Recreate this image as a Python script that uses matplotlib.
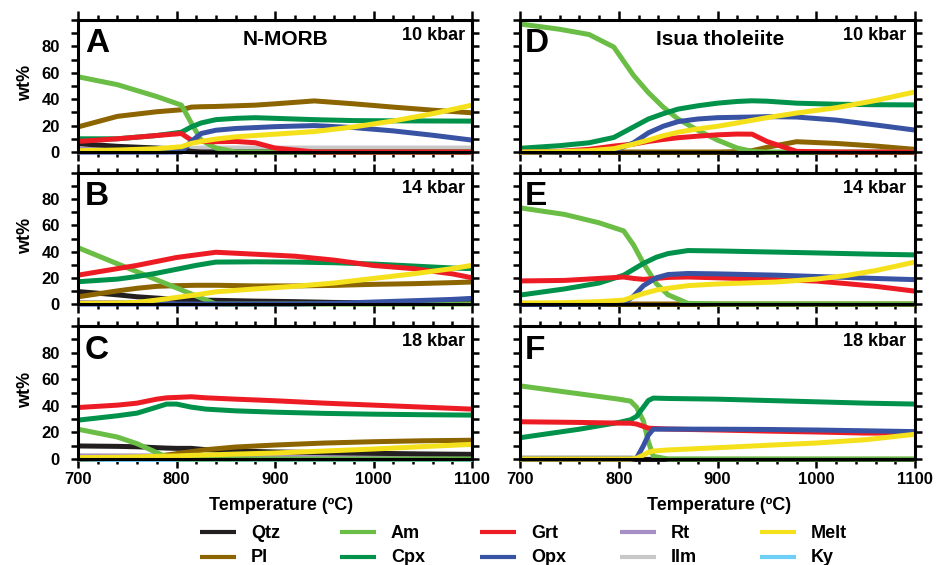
import matplotlib
matplotlib.use("Agg")
import matplotlib.pyplot as plt
from matplotlib.lines import Line2D
from matplotlib.ticker import MultipleLocator, FixedLocator, FixedFormatter

plt.rcParams['font.family'] = ['Liberation Sans', 'DejaVu Sans']
plt.rcParams['font.weight'] = 'bold'
plt.rcParams['axes.labelweight'] = 'bold'

# phase colours
colors = {
    'Qtz': '#231f20', 'Pl': '#8c6400', 'Am': '#6abd45', 'Cpx': '#00924a',
    'Grt': '#ed1c24', 'Opx': '#3953a4', 'Rt': '#a58fc4', 'Ilm': '#c8c8c8',
    'Melt': '#f5e11b', 'Ky': '#6dcff6',
}
legend_cols = [('Qtz', 'Pl'), ('Am', 'Cpx'), ('Grt', 'Opx'), ('Rt', 'Ilm'), ('Melt', 'Ky')]
draw_order = ['Ky', 'Ilm', 'Rt', 'Qtz', 'Pl', 'Am', 'Cpx', 'Grt', 'Opx', 'Melt']

y_ticks = [0, 10, 20, 30, 40, 50, 60, 70, 80, 90, 100]
y_ticklabels = ['0', '', '20', '', '40', '', '60', '', '80', '', '']

# --- N-MORB ---
A = dict(  # 10 kbar
    T=[700, 740, 780, 805, 815, 825, 840, 860, 880, 900, 940, 980, 1020, 1060, 1100],
    Am=[57, 51, 42, 35.5, 22, 9, 3, 0, 0, 0, 0, 0, 0, 0, 0],
    Pl=[19, 27, 30.5, 32, 34, 34.3, 34.5, 35, 35.5, 36.5, 38.7, 36.5, 34, 31.7, 29.7],
    Cpx=[10, 10, 12.5, 15, 19, 22, 24.5, 25.5, 26, 25.5, 24.5, 23.8, 23.6, 23.5, 23.4],
    Grt=[8, 10, 12.5, 14, 9, 8, 7.8, 8, 7, 3, 0, 0, 0, 0, 0],
    Opx=[0, 0, 0, 0, 8, 14, 16.5, 17.8, 18.5, 19.2, 20, 18.5, 16, 12.7, 9],
    Melt=[1, 1.5, 2.5, 4, 6.5, 8, 9.8, 11.5, 12.5, 13.5, 15.5, 19, 23.5, 29, 35.5],
    Qtz=[6.3, 4.3, 3, 2, 0.5, 0, 0, 0, 0, 0, 0, 0, 0, 0, 0],
    Ilm=[0, 0, 0, 0.5, 2.5, 3, 3, 3, 3, 3, 3, 3, 3, 3, 3],
    Rt=[2, 1.5, 1, 1, 0, 0, 0, 0, 0, 0, 0, 0, 0, 0, 0],
)
B = dict(  # 14 kbar
    T=[700, 740, 760, 780, 800, 820, 840, 880, 920, 960, 1000, 1040, 1080, 1100],
    Am=[43, 30.7, 24.6, 18.4, 12.3, 6.1, 0, 0, 0, 0, 0, 0, 0, 0],
    Grt=[22, 27, 29.5, 32.5, 35.5, 37.5, 39.5, 38, 36.5, 33.5, 29.4, 27, 23, 20],
    Cpx=[17, 19, 21, 23.5, 26.5, 29.5, 32, 32.2, 32, 31.5, 30.5, 29, 27.5, 27],
    Pl=[5.5, 10, 12, 13.5, 14, 14.3, 14.3, 13.8, 13.8, 14.2, 15, 15.5, 16.3, 16.8],
    Melt=[0.5, 0.8, 1.2, 3, 5, 7, 9.3, 11.5, 13.5, 16, 19.5, 23, 27, 29.5],
    Qtz=[9.5, 7, 5.5, 4.5, 3.5, 3, 2.8, 2.2, 1.8, 1.2, 1, 0.8, 0.5, 0.5],
    Opx=[0, 0, 0, 0, 0, 0, 0, 0, 0, 0.5, 1.5, 2.5, 3.5, 4.3],
    Rt=[1.5, 1.5, 1.5, 1.5, 1.5, 1.5, 1.5, 1.5, 1.5, 1.5, 1.5, 1.5, 1.5, 1.5],
)
C = dict(  # 18 kbar
    T=[700, 740, 760, 780, 790, 800, 815, 830, 860, 900, 950, 1000, 1050, 1100],
    Grt=[38.7, 40.5, 42, 45, 46, 46.3, 46.8, 46, 45, 43.8, 42, 40.5, 39, 37.5],
    Cpx=[29.2, 32.5, 34.5, 39, 41.3, 41.3, 39, 37.5, 36.2, 35.2, 34.3, 33.7, 33.3, 33],
    Am=[22.4, 16.5, 11.5, 4.8, 1.5, 0, 0, 0, 0, 0, 0, 0, 0, 0],
    Qtz=[9.8, 9.5, 9.2, 8.5, 8.2, 8, 8, 7, 6, 5.3, 4.8, 4.3, 3.8, 3.5],
    Pl=[0, 0.5, 1, 2, 3, 4, 5.5, 7, 9, 10.5, 12, 13, 13.7, 14.1],
    Melt=[1, 1.3, 1.6, 2, 2.2, 2.3, 2.7, 3, 3.7, 4.5, 6, 7.5, 9.3, 11],
    Rt=[2.3, 2.3, 2.3, 2.3, 2.3, 2.3, 2.3, 2.3, 2.4, 2.5, 2.6, 2.7, 2.8, 3],
    Ky=[0, 0, 0, 0, 0, 0, 0, 0, 0, 0, 0, 0, 0, 0],
)

# --- Isua tholeiite ---
D = dict(  # 10 kbar
    T=[700, 740, 770, 795, 815, 830, 845, 860, 880, 900, 920, 935, 950, 980, 1020, 1060, 1100],
    Am=[97, 93, 89, 79.5, 58, 45, 34, 25, 16.5, 9, 3, 0.5, 0, 0, 0, 0, 0],
    Cpx=[2.8, 4.8, 7, 11, 19, 25, 29, 32.5, 35, 37, 38.3, 38.8, 38.5, 37, 36.2, 35.8, 35.7],
    Opx=[0, 0, 0, 1, 7, 14.5, 19.5, 23, 25, 26, 26.3, 26.5, 26.8, 26.5, 24.2, 20.5, 16.6],
    Grt=[0, 0.5, 2, 4.5, 6, 8, 9.5, 10.8, 12, 13, 13.6, 13.5, 8, 0.5, 0, 0, 0],
    Melt=[0, 0.3, 1, 2.5, 6, 9, 12.3, 15, 17.5, 19.5, 22, 24, 26, 29.5, 33.5, 39, 45.5],
    Pl=[0, 0, 0, 0, 0, 0, 0, 0, 0, 0, 0.3, 1, 3.5, 7.8, 6.5, 4.5, 2],
    Qtz=[0, 0, 0, 0, 0, 0, 0, 0, 0, 0, 0, 0, 0, 0, 0, 0, 0],
)
E = dict(  # 14 kbar
    T=[700, 745, 780, 805, 815, 825, 838, 850, 870, 900, 960, 1000, 1030, 1060, 1100],
    Am=[73.4, 68.4, 62, 55.8, 45, 31, 15.6, 7, 0.5, 0, 0, 0, 0, 0, 0],
    Cpx=[6.8, 11.5, 16, 22, 26.5, 31, 35.7, 38.5, 40.8, 40.5, 39.6, 39, 38.5, 38, 37.5],
    Grt=[17.6, 18, 19.5, 20.6, 19.5, 18.8, 19.5, 20.3, 20.6, 20, 18.6, 17.5, 15.6, 13.5, 9.8],
    Opx=[0, 0, 0, 0.5, 6, 14, 20, 22.5, 23.3, 23, 22, 21, 20.3, 19.5, 18.6],
    Melt=[0.7, 1, 1.8, 3, 5.5, 8, 10.6, 12, 14, 15.3, 16.8, 19, 21.7, 25.5, 32],
    Pl=[0.5, 0.3, 0, 0, 0, 0, 0, 0, 0, 0, 0, 0, 0, 0, 0],
    Qtz=[0, 0, 0, 0, 0, 0, 0, 0, 0, 0, 0, 0, 0, 0, 0],
)
F = dict(  # 18 kbar
    T=[700, 760, 800, 812, 818, 825, 830, 835, 850, 900, 950, 1000, 1050, 1100],
    Am=[55, 49, 45, 43.5, 39, 28.5, 13, 2, 0, 0, 0, 0, 0, 0],
    Cpx=[16, 22.4, 27.5, 29.5, 32, 39, 44, 45.8, 45.5, 45, 44, 43, 42, 41.3],
    Grt=[28, 27.5, 27, 26.9, 26.3, 24.5, 23.2, 23, 22.5, 21.8, 21, 20.3, 19.5, 19.5],
    Opx=[0, 0, 0, 0, 0.5, 10, 18, 22.4, 22.5, 22.4, 22.2, 21.8, 21.2, 20.6],
    Melt=[0, 0, 0, 0, 0.5, 3, 5, 6, 6.8, 8.5, 10.3, 12, 14.5, 18.6],
    Ilm=[1, 1, 1, 1, 0.5, 0, 0, 0, 0, 0, 0, 0, 0, 0],
    Qtz=[0, 0, 0, 0, 0, 0, 0, 0, 0, 0, 0, 0, 0, 0],
)

panels = [(A, 'A', '10 kbar'), (B, 'B', '14 kbar'), (C, 'C', '18 kbar'),
          (D, 'D', '10 kbar'), (E, 'E', '14 kbar'), (F, 'F', '18 kbar')]

W, H = 953, 565
fig = plt.figure(figsize=(W / 100, H / 100), dpi=100)

cols_px = [(78, 394), (520, 395)]
rows_px = [(20, 152), (173, 304), (326, 459)]

for i, (data, letter, press) in enumerate(panels):
    col, row = divmod(i, 3)
    x0, w = cols_px[col]
    top, bot = rows_px[row]
    ax = fig.add_axes([x0 / W, 1 - bot / H, w / W, (bot - top) / H])

    for name in draw_order:
        if name in data:
            ax.plot(data['T'], data[name], color=colors[name], lw=3.6,
                    solid_capstyle='butt', solid_joinstyle='round', clip_on=False)

    ax.set_xlim(700, 1100)
    ax.set_ylim(0, 100)
    for sp in ax.spines.values():
        sp.set_linewidth(2.2)

    ax.xaxis.set_major_locator(MultipleLocator(100))
    ax.xaxis.set_minor_locator(MultipleLocator(20))
    ax.yaxis.set_major_locator(FixedLocator(y_ticks))
    ax.yaxis.set_minor_locator(FixedLocator([0, 50, 100]))
    ax.tick_params(which='both', direction='out', top=True, right=True, width=1.8,
                   labelsize=12)
    ax.tick_params(axis='x', which='major', length=6.5, pad=2.6)
    ax.tick_params(axis='x', which='minor', length=3.6)
    ax.tick_params(axis='y', which='major', length=5, pad=8)
    ax.tick_params(axis='y', which='minor', length=8.5)

    if col == 0:
        ax.yaxis.set_major_formatter(FixedFormatter(y_ticklabels))
        ax.set_ylabel('wt%', fontsize=13, fontweight='bold')
        ax.yaxis.set_label_coords(-0.112, 0.52)
    else:
        ax.set_yticklabels([])
    if row != 2:
        ax.set_xticklabels([])

    ax.text(0.018 if col == 0 else 0.013, 0.755, letter, transform=ax.transAxes,
            fontsize=24, va='baseline', ha='left')
    ax.text(0.982 if col == 0 else 0.977, 0.85, press, transform=ax.transAxes,
            fontsize=13, va='baseline', ha='right')
    if row == 0:
        title = 'N-MORB' if col == 0 else 'Isua tholeiite'
        ax.text(0.526 if col == 0 else 0.506, 0.81, title, transform=ax.transAxes,
                fontsize=15, va='baseline', ha='center')

fig.text(281 / W, 1 - 510 / H, 'Temperature (ºC)', fontsize=13, ha='center', va='baseline')
fig.text(719 / W, 1 - 510 / H, 'Temperature (ºC)', fontsize=13, ha='center', va='baseline')

# legend drawn by hand, two rows of five
for j, pair in enumerate(legend_cols):
    hx = 200 + 140 * j
    for k, name in enumerate(pair):
        yl = 532 + 25 * k
        fig.add_artist(Line2D([hx / W, (hx + 36) / W], [1 - yl / H, 1 - yl / H],
                              transform=fig.transFigure, color=colors[name], lw=3,
                              solid_capstyle='butt'))
        fig.text((hx + 51) / W, 1 - (yl + 5.5) / H, name, fontsize=13,
                 ha='left', va='baseline')

fig.savefig('out.png', dpi=100)
